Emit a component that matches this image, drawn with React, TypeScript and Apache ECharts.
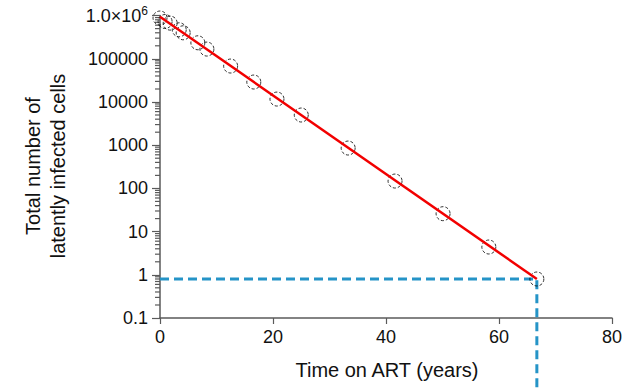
import React, { useEffect, useRef } from "react";
import * as echarts from "echarts";

// ---- data ----
const timeYears = [0, 0.9, 1.8, 3.4, 4.1, 6.7, 8.3, 12.5, 16.6, 20.7, 25.0, 33.3, 41.6, 50.1, 58.2, 66.7];
const cellCounts = [880000, 730000, 670000, 470000, 400000, 235000, 168000, 68000, 29000, 11700, 5000, 860, 148, 26, 4.4, 0.8];

const fitTimes = [0, 66.7];
const fitValues = [940000, 0.8];

const thresholdTime = 66.7;
const thresholdValue = 0.8;
const dropBottomValue = 0.0023; // vertical dashed line runs below the x axis

const xTicks = [0, 20, 40, 60, 80];
const yDecades = [0.1, 1, 10, 100, 1000, 10000, 100000, 1000000];
const minorMultipliers = [2, 3, 4, 5, 6, 7, 8, 9];

const xTitle = "Time on ART (years)";
const yTitle = "Total number of\nlatently infected cells";

export default function App() {
  const ref = useRef<HTMLDivElement>(null);

  useEffect(() => {
    if (!ref.current) return;
    const chart = echarts.init(ref.current, undefined, { renderer: "svg" });

    const minorTicks: number[] = [];
    yDecades.slice(0, -1).forEach((d) => minorMultipliers.forEach((m) => minorTicks.push(d * m)));

    const font = "Arial, 'Liberation Sans', sans-serif";
    const axisColor = "#5a5a5a";

    chart.setOption({
      animation: false,
      backgroundColor: "#ffffff",
      grid: { left: 160, right: 23, top: 15.6, bottom: 70 },
      xAxis: {
        type: "value",
        min: xTicks[0],
        max: xTicks[xTicks.length - 1],
        interval: 20,
        axisLine: { show: true, lineStyle: { color: axisColor, width: 1.5 } },
        axisTick: { show: true, length: 6, lineStyle: { color: axisColor, width: 1.2 } },
        axisLabel: { color: "#111", fontSize: 18, fontFamily: font, margin: 10 },
        splitLine: { show: false },
      },
      yAxis: {
        type: "log",
        logBase: 10,
        min: yDecades[0],
        max: yDecades[yDecades.length - 1],
        splitNumber: 7,
        axisLine: { show: true, lineStyle: { color: axisColor, width: 1.5 } },
        axisTick: { show: true, length: 8, lineStyle: { color: axisColor, width: 1.2 } },
        axisLabel: {
          color: "#111",
          fontSize: 18,
          fontFamily: font,
          margin: 12,
          formatter: (v: number) => {
            const e = Math.round(Math.log10(v));
            if (e >= 6) return "{a|1.0×10}{s|" + e + "}";
            if (e < 0) return "0.1";
            return String(Math.round(Math.pow(10, e)));
          },
          rich: {
            a: { fontSize: 18, fontFamily: font, color: "#111" },
            s: { fontSize: 12, fontFamily: font, color: "#111", verticalAlign: "top", padding: [0, 0, 10, 0] },
          },
        },
        splitLine: { show: false },
      },
      series: [
        {
          type: "custom",
          name: "minorTicks",
          coordinateSystem: "cartesian2d",
          clip: false,
          silent: true,
          data: minorTicks.map((v) => [0, v]),
          renderItem: (params: any, api: any) => {
            const p = api.coord([0, api.value(1)]);
            return {
              type: "line",
              shape: { x1: p[0] - 5, y1: p[1], x2: p[0], y2: p[1] },
              style: { stroke: axisColor, lineWidth: 1.2 },
            };
          },
          z: 1,
        },
        {
          type: "line",
          name: "threshold",
          clip: false,
          symbol: "none",
          silent: true,
          data: [
            [xTicks[0], thresholdValue],
            [thresholdTime, thresholdValue],
            [thresholdTime, dropBottomValue],
          ],
          lineStyle: { color: "#2594c7", width: 3, type: [9, 5] },
          z: 2,
        },
        {
          type: "scatter",
          name: "data",
          clip: false,
          symbol: "circle",
          symbolSize: 14,
          data: timeYears.map((t, i) => [t, cellCounts[i]]),
          itemStyle: { color: "rgba(0,0,0,0)", borderColor: "#000", borderWidth: 1, borderType: [3, 2] },
          z: 3,
        },
        {
          type: "line",
          name: "fit",
          clip: false,
          symbol: "none",
          silent: true,
          data: fitTimes.map((t, i) => [t, fitValues[i]]),
          lineStyle: { color: "#f20000", width: 2.5 },
          z: 4,
        },
      ],
      graphic: [
        {
          type: "text",
          x: 45,
          y: 166,
          rotation: Math.PI / 2,
          style: {
            text: yTitle,
            fontSize: 20,
            fontFamily: font,
            fill: "#111",
            align: "center",
            verticalAlign: "middle",
            lineHeight: 25,
          },
        },
        {
          type: "text",
          x: 387,
          y: 370,
          style: {
            text: xTitle,
            fontSize: 20,
            fontFamily: font,
            fill: "#111",
            align: "center",
            verticalAlign: "middle",
          },
        },
      ],
    });

    return () => chart.dispose();
  }, []);

  return (
    <div
      ref={ref}
      style={{ position: "absolute", left: 0, top: 0, width: 635, height: 388 }}
    />
  );
}
